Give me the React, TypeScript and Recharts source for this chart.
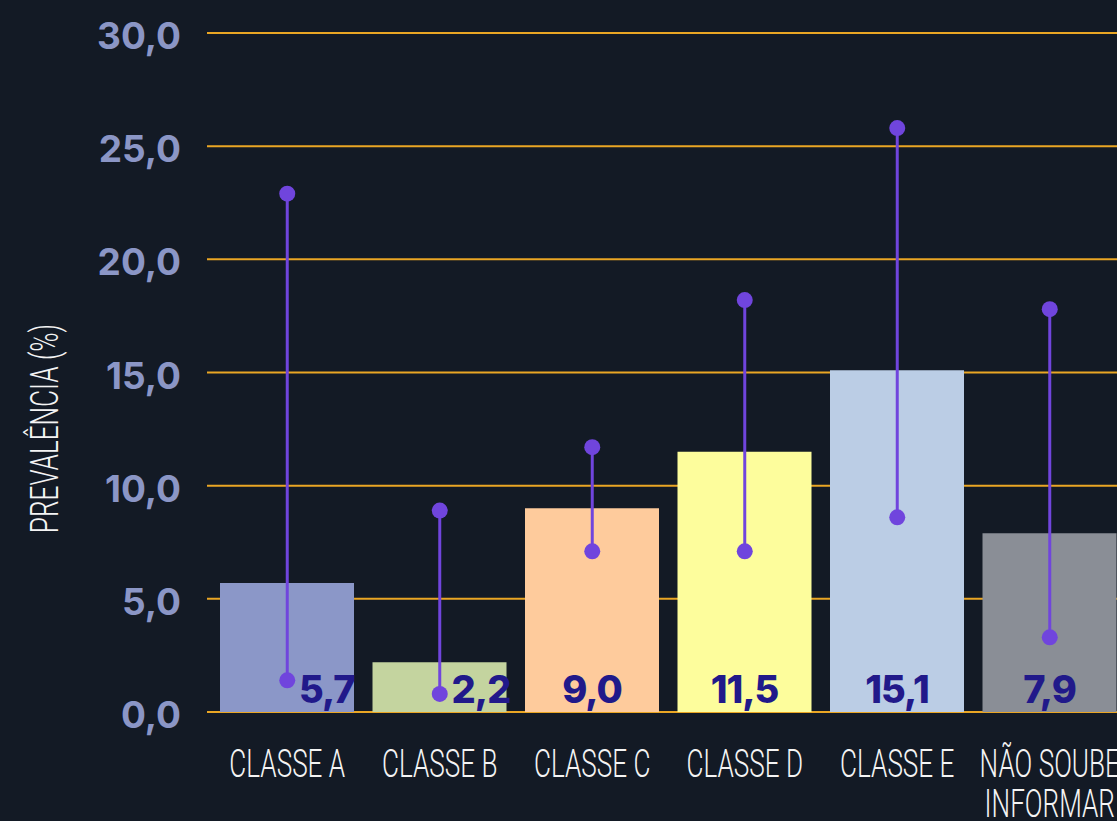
import React from 'react';
import { ComposedChart, Bar, XAxis, YAxis, CartesianGrid, Cell, LabelList } from 'recharts';

const categories = ['CLASSE A', 'CLASSE B', 'CLASSE C', 'CLASSE D', 'CLASSE E', 'NÃO SOUBE INFORMAR'];
const prevalence = [5.7, 2.2, 9.0, 11.5, 15.1, 7.9];
const ciLow = [1.4, 0.8, 7.1, 7.1, 8.6, 3.3];
const ciHigh = [22.9, 8.9, 11.7, 18.2, 25.8, 17.8];
const yTicks = [0, 5, 10, 15, 20, 25, 30];
const barColors = ['#8b97c8', '#c4d49f', '#fecb9c', '#fdfd9c', '#bbcde5', '#8a8e96'];

const BG = '#131a25';
const GRID = '#eaa624';
const ERR = '#7045dd';
const VALUE_COLOR = '#21198a';
const TICK_COLOR = '#8b96c6';

const rows = categories.map((name, i) => ({
    name,
    value: prevalence[i],
    low: ciLow[i],
    high: ciHigh[i],
}));

const fmt = (v: number) => v.toFixed(1).replace('.', ',');

// splits long category names in two lines
const wrap = (s: string) => {
    if (s.length <= 10) return [s];
    const cut = s.lastIndexOf(' ');
    return [s.slice(0, cut), s.slice(cut + 1)];
};

const condensed = {
    fontFamily: 'Roboto, sans-serif',
    fontWeight: 300,
    fontSize: 39,
    fill: '#f4f4f4',
};

const CategoryTick = (props: any) => {
    const { x, y, payload } = props;
    const lines = wrap(String(payload.value));
    return (
        <g transform={`translate(${x},${y + 27})`}>
            {lines.map((l, i) => (
                <text key={i} y={i * 40} textAnchor="middle" transform="scale(0.67,1)" {...condensed}>
                    {l}
                </text>
            ))}
        </g>
    );
};

const YLabel = (props: any) => {
    const vb = props.viewBox || {};
    const cx = 58;
    const cy = (vb.y ?? 33) + (vb.height ?? 679) / 2 + 56;
    return (
        <g transform={`translate(${cx},${cy}) rotate(-90) scale(0.67,1)`}>
            <text textAnchor="middle" {...condensed}>PREVALÊNCIA (%)</text>
        </g>
    );
};

const ValueLabel = (props: any) => {
    const { x, y, width, height, value, index } = props;
    const cx = x + width / 2;
    const base = y + height - 9;
    // move the number aside when the lower whisker dot sits on it
    const shift = ciLow[index] < 2.5;
    return (
        <text
            x={shift ? cx + 12 : cx}
            y={base}
            textAnchor={shift ? 'start' : 'middle'}
            fill={VALUE_COLOR}
            fontFamily="Inter, sans-serif"
            fontWeight={800}
            fontSize={38}
            letterSpacing={-1}
        >
            {fmt(Number(value))}
        </text>
    );
};

const Whisker = (props: any) => {
    const { x, y, width, height } = props;
    const cx = x + width / 2;
    const top = Math.min(y, y + height);
    const bottom = Math.max(y, y + height);
    return (
        <g>
            <line x1={cx} x2={cx} y1={top} y2={bottom} stroke={ERR} strokeWidth={3} />
            <circle cx={cx} cy={top} r={8} fill={ERR} />
            <circle cx={cx} cy={bottom} r={8} fill={ERR} />
        </g>
    );
};

export default function App() {
    return (
        <div style={{ position: 'fixed', left: 0, top: 0, width: 1117, height: 821, background: BG, overflow: 'hidden' }}>
            <ComposedChart width={1126} height={821} data={rows} margin={{ top: 33, right: 0, bottom: 0, left: 0 }}>
                <CartesianGrid xAxisId="main" vertical={false} stroke={GRID} strokeWidth={2} />
                <XAxis
                    xAxisId="main"
                    dataKey="name"
                    axisLine={false}
                    tickLine={false}
                    interval={0}
                    height={109}
                    padding={{ left: 4, right: 0 }}
                    tick={<CategoryTick />}
                />
                <XAxis xAxisId="err" dataKey="name" hide padding={{ left: 4, right: 0 }} />
                <YAxis
                    width={207}
                    domain={[0, 30]}
                    ticks={yTicks}
                    interval={0}
                    axisLine={false}
                    tickLine={false}
                    tickMargin={20}
                    tickFormatter={fmt}
                    tick={{ fill: TICK_COLOR, fontSize: 37, fontWeight: 700, fontFamily: 'Inter, sans-serif', dy: 3 }}
                    label={<YLabel />}
                />
                <Bar xAxisId="main" dataKey="value" barSize={134} isAnimationActive={false}>
                    {rows.map((r, i) => (
                        <Cell key={r.name} fill={barColors[i]} />
                    ))}
                    <LabelList dataKey="value" content={<ValueLabel />} />
                </Bar>
                <Bar
                    xAxisId="err"
                    dataKey={(d: any) => [d.low, d.high]}
                    shape={<Whisker />}
                    isAnimationActive={false}
                />
            </ComposedChart>
        </div>
    );
}
